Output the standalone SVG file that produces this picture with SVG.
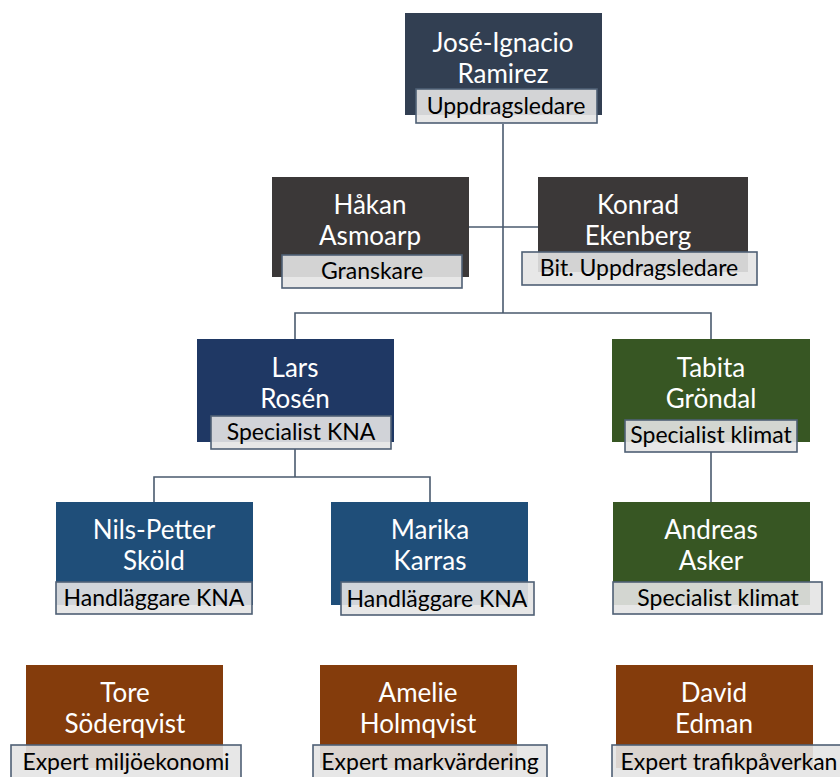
<svg xmlns="http://www.w3.org/2000/svg" width="840" height="777" viewBox="0 0 840 777">
  <style>
    .conn { fill: none; stroke: #4A5A6E; stroke-width: 1.6; }
    .lbl { fill: #E4E4E4; fill-opacity: 0.9; stroke: #4F6075; stroke-width: 1.6; }
    .name { font-family: Lato, "Open Sans", sans-serif; font-size: 26px; fill: #FFFFFF; text-anchor: middle; }
    .role { font-family: Lato, "Open Sans", sans-serif; font-size: 23px; fill: #000000; text-anchor: middle; }
    .slate { fill: #323F52; }
    .grey { fill: #3B3838; }
    .navy { fill: #1F3864; }
    .blue { fill: #1F4E79; }
    .green { fill: #375623; }
    .brown { fill: #843C0C; }
  </style>
  <rect width="840" height="777" fill="#FFFFFF"/>

  <!-- reporting lines -->
  <g id="connectors">
    <path class="conn" d="M503 124 V313"/>
    <path class="conn" d="M469 227 H538"/>
    <path class="conn" d="M295 339 V313 H711 V339"/>
    <path class="conn" d="M295 449 V477"/>
    <path class="conn" d="M154 502 V477 H430 V502"/>
    <path class="conn" d="M711 452 V502"/>
  </g>

  <g id="ramirez">
    <rect class="slate" x="405" y="13" width="197" height="102"/>
    <text class="name" x="503" y="52">José-Ignacio</text>
    <text class="name" x="503" y="83">Ramirez</text>
    <rect class="lbl" x="416" y="89" width="181" height="34"/>
    <text class="role" x="506" y="114">Uppdragsledare</text>
  </g>

  <g id="asmoarp">
    <rect class="grey" x="272" y="177" width="197" height="100"/>
    <text class="name" x="370" y="214">Håkan</text>
    <text class="name" x="370" y="245">Asmoarp</text>
    <rect class="lbl" x="282" y="255" width="180" height="33"/>
    <text class="role" x="372" y="279">Granskare</text>
  </g>

  <g id="ekenberg">
    <rect class="grey" x="538" y="177" width="210" height="95"/>
    <text class="name" x="638" y="214">Konrad</text>
    <text class="name" x="638" y="245">Ekenberg</text>
    <rect class="lbl" x="522" y="252" width="235" height="33"/>
    <text class="role" x="639" y="276">Bit. Uppdragsledare</text>
  </g>

  <g id="rosen">
    <rect class="navy" x="197" y="339" width="197" height="103"/>
    <text class="name" x="295" y="377">Lars</text>
    <text class="name" x="295" y="408">Rosén</text>
    <rect class="lbl" x="211" y="416" width="180" height="33"/>
    <text class="role" x="301" y="440">Specialist KNA</text>
  </g>

  <g id="grondal">
    <rect class="green" x="612" y="339" width="198" height="103"/>
    <text class="name" x="711" y="377">Tabita</text>
    <text class="name" x="711" y="408">Gröndal</text>
    <rect class="lbl" x="625" y="420" width="172" height="32"/>
    <text class="role" x="711" y="443">Specialist klimat</text>
  </g>

  <g id="skold">
    <rect class="blue" x="56" y="502" width="197" height="103"/>
    <text class="name" x="154" y="539">Nils-Petter</text>
    <text class="name" x="154" y="570">Sköld</text>
    <rect class="lbl" x="56" y="582" width="196" height="32"/>
    <text class="role" x="154" y="606">Handläggare KNA</text>
  </g>

  <g id="karras">
    <rect class="blue" x="331" y="502" width="197" height="103"/>
    <text class="name" x="430" y="539">Marika</text>
    <text class="name" x="430" y="570">Karras</text>
    <rect class="lbl" x="341" y="582" width="193" height="33"/>
    <text class="role" x="437" y="607">Handläggare KNA</text>
  </g>

  <g id="asker">
    <rect class="green" x="613" y="502" width="197" height="103"/>
    <text class="name" x="711" y="539">Andreas</text>
    <text class="name" x="711" y="570">Asker</text>
    <rect class="lbl" x="613" y="582" width="209" height="32"/>
    <text class="role" x="718" y="606">Specialist klimat</text>
  </g>

  <g id="soderqvist">
    <rect class="brown" x="26" y="665" width="197" height="103"/>
    <text class="name" x="125" y="702">Tore</text>
    <text class="name" x="125" y="733">Söderqvist</text>
    <rect class="lbl" x="11" y="745" width="230" height="34"/>
    <text class="role" x="126" y="770">Expert miljöekonomi</text>
  </g>

  <g id="holmqvist">
    <rect class="brown" x="320" y="665" width="197" height="103"/>
    <text class="name" x="418" y="702">Amelie</text>
    <text class="name" x="418" y="733">Holmqvist</text>
    <rect class="lbl" x="313" y="745" width="234" height="34"/>
    <text class="role" x="430" y="770">Expert markvärdering</text>
  </g>

  <g id="edman">
    <rect class="brown" x="616" y="665" width="197" height="103"/>
    <text class="name" x="714" y="702">David</text>
    <text class="name" x="714" y="733">Edman</text>
    <rect class="lbl" x="612" y="745" width="232" height="34"/>
    <text class="role" x="729" y="770">Expert trafikpåverkan</text>
  </g>
</svg>
